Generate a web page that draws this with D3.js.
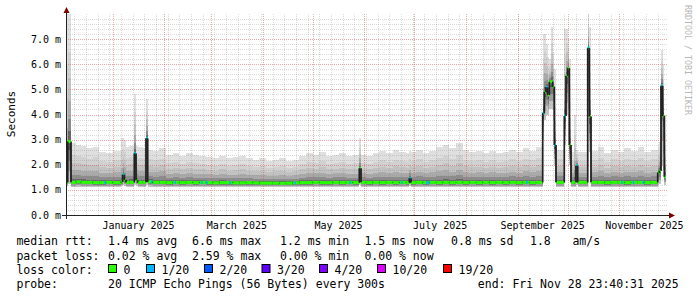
<!DOCTYPE html>
<html>
<head>
<meta charset="utf-8">
<script src="https://cdn.jsdelivr.net/npm/d3@7"></script>
<style>
  body { margin: 0; background: #fff; }
  svg { display: block; font-family: "DejaVu Sans Mono", monospace; }
</style>
</head>
<body>
<svg id="chart" width="697" height="297"></svg>
<script>
// smokeping data, one row per run of days (day index counted from graph start), values in ms
var segDay = [0, 1, 3, 6, 9, 12, 16, 20, 24, 28, 33, 34, 35, 36, 38, 41, 42, 43, 46, 48,
  49, 52, 56, 60, 64, 68, 72, 76, 80, 84, 88, 92, 96, 100, 104, 108, 112, 116, 120, 124,
  128, 132, 136, 140, 144, 148, 152, 156, 160, 164, 168, 172, 176, 177, 180, 184, 188, 192, 196, 200,
  204, 206, 207, 210, 214, 218, 222, 226, 230, 234, 238, 242, 246, 250, 254, 258, 262, 266, 270, 274,
  278, 282, 286, 287, 288, 289, 290, 291, 292, 293, 294, 299, 300, 301, 302, 303, 305, 306, 307, 313,
  314, 315, 319, 323, 327, 331, 335, 339, 343, 347, 351, 355, 356, 357, 358, 359];
var medMs = [1.30, 2.92, 1.30, 1.32, 1.30, 1.30, 1.29, 1.29, 1.30, 1.29, 1.32, 1.60, 1.40, 1.30, 1.30, 2.45, 1.38, 1.30, 1.30, 3.05,
  1.32, 1.30, 1.30, 1.29, 1.30, 1.29, 1.30, 1.29, 1.30, 1.29, 1.28, 1.29, 1.29, 1.28, 1.28, 1.29, 1.28, 1.27, 1.27, 1.27,
  1.26, 1.27, 1.28, 1.29, 1.29, 1.30, 1.29, 1.29, 1.30, 1.29, 1.30, 1.29, 1.86, 1.30, 1.29, 1.30, 1.29, 1.30, 1.29, 1.30,
  1.29, 1.46, 1.29, 1.30, 1.29, 1.30, 1.29, 1.30, 1.29, 1.30, 1.29, 1.30, 1.29, 1.30, 1.29, 1.30, 1.29, 1.30, 1.29, 1.30,
  1.29, 1.30, 4.05, 4.90, 5.08, 4.78, 5.30, 5.30, 5.10, 2.79, 1.30, 3.94, 5.54, 5.84, 2.79, 1.30, 1.30, 1.96, 1.30, 6.64,
  3.92, 1.30, 1.30, 1.29, 1.30, 1.30, 1.29, 1.30, 1.30, 1.29, 1.30, 1.68, 1.76, 5.14, 3.94, 1.52];
var topMs = [8.00, 8.00, 2.86, 2.80, 2.75, 2.65, 2.72, 2.50, 2.45, 2.55, 3.05, 3.05, 3.00, 2.70, 2.75, 4.80, 2.75, 2.70, 2.65, 4.60,
  2.60, 2.55, 2.65, 2.40, 2.45, 2.35, 2.45, 2.40, 2.35, 2.30, 2.25, 2.35, 2.25, 2.30, 2.35, 2.25, 2.20, 2.25, 2.15, 2.20,
  2.25, 2.15, 2.20, 2.35, 2.45, 2.40, 2.50, 2.35, 2.40, 2.45, 2.35, 2.40, 3.08, 2.40, 2.35, 2.45, 2.55, 2.45, 2.60, 2.50,
  2.45, 2.55, 2.50, 2.60, 2.45, 2.55, 2.70, 2.80, 2.65, 2.85, 2.60, 2.50, 2.55, 2.45, 2.55, 2.45, 2.50, 2.60, 2.50, 2.65,
  2.55, 2.70, 7.20, 7.20, 6.80, 6.30, 6.20, 7.50, 6.50, 5.80, 2.60, 7.40, 7.40, 7.00, 6.20, 2.50, 4.00, 2.60, 2.50, 8.00,
  7.50, 2.55, 2.70, 2.45, 2.60, 2.50, 2.65, 2.55, 2.70, 2.50, 2.60, 2.70, 2.90, 6.57, 6.00, 4.00];
var lowMs = [1.15, 1.25, 1.12, 1.12, 1.12, 1.12, 1.12, 1.12, 1.12, 1.12, 1.15, 1.20, 1.15, 1.12, 1.12, 1.20, 1.15, 1.12, 1.12, 1.20,
  1.12, 1.12, 1.12, 1.12, 1.12, 1.12, 1.12, 1.12, 1.12, 1.12, 1.12, 1.12, 1.12, 1.12, 1.12, 1.12, 1.10, 1.10, 1.10, 1.10,
  1.10, 1.10, 1.10, 1.12, 1.12, 1.12, 1.12, 1.12, 1.12, 1.12, 1.12, 1.12, 1.20, 1.12, 1.12, 1.12, 1.12, 1.12, 1.12, 1.12,
  1.12, 1.15, 1.12, 1.12, 1.12, 1.12, 1.12, 1.12, 1.12, 1.12, 1.12, 1.12, 1.12, 1.12, 1.12, 1.12, 1.12, 1.12, 1.12, 1.12,
  1.12, 1.12, 3.00, 3.80, 4.00, 4.00, 4.20, 4.20, 3.80, 2.00, 1.12, 2.80, 4.00, 4.20, 2.00, 1.12, 1.12, 1.20, 1.12, 4.50,
  2.50, 1.12, 1.12, 1.12, 1.12, 1.12, 1.12, 1.12, 1.12, 1.12, 1.12, 1.20, 1.25, 2.00, 1.80, 1.20];

// days with packet loss, and which loss bucket they fall in
var lossDay = [23, 34, 41, 48, 51, 65, 81, 84, 98, 137, 170, 201, 206, 216, 217, 276, 286, 288, 293, 299, 306, 313, 333, 340, 346, 357];
var lossLvl = [1, 1, 1, 1, 1, 1, 1, 1, 1, 1, 1, 1, 1, 1, 1, 1, 1, 1, 1, 1, 1, 1, 1, 1, 1, 1];

var lossLabels = ["0", "1/20", "2/20", "3/20", "4/20", "10/20", "19/20"];
var lossColors = ["#26ff00", "#00b8ff", "#0059ff", "#5e00ff", "#7e00ff", "#dd00ff", "#ff0000"];
var yTicks = [0, 1, 2, 3, 4, 5, 6, 7];
var labelMonths = ["2025-01", "2025-03", "2025-05", "2025-07", "2025-09", "2025-11"];

var rttStats = ["1.4 ms avg", "6.6 ms max", "1.2 ms min", "1.5 ms now", "0.8 ms sd", "1.8", "am/s"];
var lossStats = ["0.02 % avg", "2.59 % max", "0.00 % min", "0.00 % now"];
var probeText = "20 ICMP Echo Pings (56 Bytes) every 300s";
var endText = "end: Fri Nov 28 23:40:31 2025";

var endTime = new Date(Date.UTC(2025, 10, 28, 23, 40, 31));
var nDays = 360;
var startTime = new Date(endTime.getTime() - nDays * 864e5);
function dayDate(i) { return new Date(startTime.getTime() + i * 864e5); }

var svg = d3.select("#chart");
svg.append("rect").attr("width", 697).attr("height", 297).attr("fill", "#fff");

var x = d3.scaleUtc().domain([startTime, endTime]).range([66, 666]);
var y = d3.scaleLinear().domain([0, 8]).range([215, 14]);

var plot = svg.append("g");

// smoke: shades get lighter away from the median
var upFrac = [0, 0.08, 0.18, 0.32, 0.5, 0.7, 1];
var upCol = ["#666666", "#8c8c8c", "#aaaaaa", "#c2c2c2", "#d1d1d1", "#dfdfdf"];
var dnFrac = [0, 0.2, 0.45, 0.7, 1];
var dnCol = ["#555555", "#7a7a7a", "#9e9e9e", "#c4c4c4"];

segDay.forEach(function(d, s) {
  var x0 = x(dayDate(d));
  var x1 = x(dayDate(s + 1 < segDay.length ? segDay[s + 1] : nDays));
  var m = medMs[s], t = Math.min(topMs[s], 8), lo = lowMs[s];
  upCol.forEach(function(c, k) {
    var v0 = m + upFrac[k] * (t - m), v1 = m + upFrac[k + 1] * (t - m);
    plot.append("rect").attr("x", x0).attr("width", x1 - x0)
      .attr("y", y(v1)).attr("height", y(v0) - y(v1))
      .attr("fill", c).attr("shape-rendering", "crispEdges");
  });
  dnCol.forEach(function(c, k) {
    var v0 = m - dnFrac[k] * (m - lo), v1 = m - dnFrac[k + 1] * (m - lo);
    plot.append("rect").attr("x", x0).attr("width", x1 - x0)
      .attr("y", y(v0)).attr("height", y(v1) - y(v0))
      .attr("fill", c).attr("shape-rendering", "crispEdges");
  });
});

// grid
var gridMinor = "rgba(140,140,140,0.32)", gridMajor = "rgba(222,80,80,0.5)";
var g = svg.append("g").attr("fill", "none").attr("stroke-width", 1).attr("stroke-dasharray", "1,1");
d3.range(1, 41).filter(function(i) { return i % 5 != 0; }).forEach(function(i) {
  var yy = Math.round(y(i * 0.2)) + 0.5;
  g.append("line").attr("x1", 66).attr("x2", 668).attr("y1", yy).attr("y2", yy).attr("stroke", gridMinor);
});
d3.utcMonday.range(startTime, endTime).forEach(function(d) {
  var xx = Math.round(x(d)) + 0.5;
  g.append("line").attr("x1", xx).attr("x2", xx).attr("y1", 14).attr("y2", 215).attr("stroke", gridMinor);
});
yTicks.slice(1).forEach(function(v) {
  var yy = Math.round(y(v)) + 0.5;
  g.append("line").attr("x1", 66).attr("x2", 668).attr("y1", yy).attr("y2", yy).attr("stroke", gridMajor);
});
d3.utcMonth.range(startTime, endTime).forEach(function(d) {
  var xx = Math.round(x(d)) + 0.5;
  g.append("line").attr("x1", xx).attr("x2", xx).attr("y1", 14).attr("y2", 215).attr("stroke", gridMajor);
});

// median line (step), then loss coloured band on top, then the jumps
var medPts = segDay.map(function(d, s) { return [x(dayDate(d)), y(medMs[s])]; });
medPts.push([x(endTime), y(medMs[medMs.length - 1])]);
plot.append("path").attr("d", d3.line().curve(d3.curveStepAfter)(medPts))
  .attr("fill", "none").attr("stroke", "#202020").attr("stroke-width", 1);

segDay.forEach(function(d, s) {
  var x0 = x(dayDate(d));
  var x1 = x(dayDate(s + 1 < segDay.length ? segDay[s + 1] : nDays));
  svg.append("rect").attr("x", x0).attr("width", x1 - x0)
    .attr("y", y(medMs[s]) - 1.5).attr("height", 3).attr("fill", lossColors[0]);
});
lossDay.forEach(function(d, i) {
  var s = d3.bisectRight(segDay, d) - 1;
  svg.append("rect").attr("x", x(dayDate(d))).attr("width", x(dayDate(d + 1)) - x(dayDate(d)))
    .attr("y", y(medMs[s]) - 1.5).attr("height", 3).attr("fill", lossColors[lossLvl[i]]);
});
segDay.forEach(function(d, s) {
  if (s == 0) return;
  var xx = x(dayDate(d));
  svg.append("line").attr("x1", xx).attr("x2", xx)
    .attr("y1", y(medMs[s - 1])).attr("y2", y(medMs[s]))
    .attr("stroke", "#202020").attr("stroke-width", 1.6);
});

// axes and arrows
svg.append("line").attr("x1", 62).attr("x2", 670).attr("y1", 215.5).attr("y2", 215.5).attr("stroke", "#222");
svg.append("line").attr("x1", 66.5).attr("x2", 66.5).attr("y1", 219).attr("y2", 11).attr("stroke", "#222");
svg.append("path").attr("d", "M63.5,13L66.5,7L69.5,13Z").attr("fill", "#7f0000");
svg.append("path").attr("d", "M669,212.5L675,215.5L669,218.5Z").attr("fill", "#7f0000");

svg.selectAll(".ylab").data(yTicks).enter().append("text")
  .attr("x", 61).attr("y", function(d) { return y(d); }).attr("dy", "0.35em")
  .attr("text-anchor", "end").attr("font-size", "10px").attr("fill", "#000")
  .text(function(d) { return d3.format(".1f")(d) + " m"; });

svg.selectAll(".xlab").data(labelMonths).enter().append("text")
  .attr("x", function(d) {
    var m0 = d3.utcParse("%Y-%m")(d), m1 = d3.utcMonth.offset(m0, 1);
    return x(new Date((m0.getTime() + m1.getTime()) / 2));
  })
  .attr("y", 228.5).attr("text-anchor", "middle").attr("font-size", "10px")
  .text(function(d) { return d3.utcFormat("%B %Y")(d3.utcParse("%Y-%m")(d)); });

svg.append("text").attr("transform", "translate(15,114) rotate(-90)")
  .attr("text-anchor", "middle").attr("font-size", "11px").text("Seconds");

svg.append("text").attr("transform", "translate(685,5) rotate(90)")
  .attr("font-size", "8.3px").attr("fill", "#b8b8b8").text("RRDTOOL / TOBI OETIKER");

// legend
var leg = svg.append("g").attr("font-size", "11.5px").attr("fill", "#000");
var rttX = [108, 192, 280, 364.4, 451, 530, 572.4];
var lossX = [108, 192, 280, 364.4];
leg.append("text").attr("x", 16.4).attr("y", 245).text("median rtt:");
rttStats.forEach(function(t, i) { leg.append("text").attr("x", rttX[i]).attr("y", 245).text(t); });
leg.append("text").attr("x", 16.4).attr("y", 259.5).text("packet loss:");
lossStats.forEach(function(t, i) { leg.append("text").attr("x", lossX[i]).attr("y", 259.5).text(t); });
leg.append("text").attr("x", 16.4).attr("y", 273.5).text("loss color:");
var boxX = [108, 146, 204, 261.5, 319, 377, 443];
lossLabels.forEach(function(t, i) {
  leg.append("rect").attr("x", boxX[i] + 0.5).attr("y", 264.5).attr("width", 8).attr("height", 8)
    .attr("fill", lossColors[i]).attr("stroke", "#000");
  leg.append("text").attr("x", boxX[i] + 15.5).attr("y", 273.5).text(t);
});
leg.append("text").attr("x", 16.4).attr("y", 288).text("probe:");
leg.append("text").attr("x", 108).attr("y", 288).text(probeText);
leg.append("text").attr("x", 477.8).attr("y", 288).text(endText);
</script>
</body>
</html>
